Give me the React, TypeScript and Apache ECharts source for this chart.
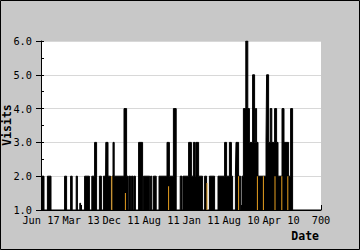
import React, { useEffect, useRef } from "react";
import * as echarts from "echarts";

// x tick labels (value axis 0..700, step 100)
const xLabels = ["Jun 17", "Mar 13", "Dec 11", "Aug 11", "Jan 11", "Aug 10", "Apr 10", "700"];
const yTicks = [1, 2, 3, 4, 5, 6];

// daily visits, as runs: from days[i] until days[i+1] the count is visits[i]
const days = [
  0, 2.5, 7.5, 16, 25, 59, 64, 74, 78, 88, 91, 97, 99, 109, 121, 127, 134, 139, 146, 151,
  156, 161, 162, 167.5, 174, 177.5, 180, 183, 207.5, 214, 218, 220, 224, 226, 230, 232, 236, 244,
  254, 256, 272, 274, 277, 281, 288, 295, 315, 321, 331, 338, 348, 352.5, 355, 369, 376, 381,
  385, 387, 394, 404, 409, 414, 421, 434, 442.5, 459, 464, 471, 476, 479, 486, 487.5, 494, 499,
  502.5, 506, 512, 517, 521, 529, 534, 536, 539, 542.5, 562.5, 564, 569, 573, 577, 584, 589,
  592.5, 602.5, 607.5, 619, 624, 629, 700,
];
const visits = [
  1, 2, 1, 2, 1, 2, 1, 2, 1, 2, 1, 1.2, 1, 2, 1, 2, 3, 1, 2, 1,
  2, 1, 3, 2, 1, 2, 3, 2, 4, 2, 1, 2, 1, 2, 1, 2, 1, 3,
  1, 2, 1, 2, 1, 2, 1, 2, 3, 2, 4, 1, 2, 1, 2, 3, 2, 3,
  2, 3, 2, 1, 2, 1, 2, 1, 2, 3, 2, 3, 2, 1, 2, 3, 2, 1,
  2, 4, 6, 4, 3, 5, 3, 4, 3, 2, 3, 5, 3, 4, 3, 4, 3,
  2, 4, 3, 2, 4, 1, 1,
];

// thin orange streaks
const orangeDays = [177, 211, 319, 415, 494, 541, 556, 585, 602, 617];
const orangeVisits = [2, 1.5, 1.7, 1.8, 2, 2, 2, 2, 2, 2];

const FONT = "DejaVu Sans Mono";

export default function App() {
  const ref = useRef<HTMLDivElement>(null);
  useEffect(() => {
    if (!ref.current) return;
    const chart = echarts.init(ref.current, null, { renderer: "svg" });
    chart.setOption({
      animation: false,
      backgroundColor: "#c8c8c8",
      grid: {
        left: 41,
        right: 39,
        top: 41,
        bottom: 40,
        show: true,
        backgroundColor: "#ffffff",
        borderWidth: 0,
      },
      xAxis: {
        type: "value",
        min: 0,
        max: 700,
        interval: 100,
        axisLine: { show: true, lineStyle: { color: "#000", width: 1 } },
        axisTick: { show: true, inside: true, length: 5, lineStyle: { color: "#000" } },
        splitLine: { show: false },
        axisLabel: {
          color: "#000",
          fontFamily: FONT,
          fontSize: 10.3,
          margin: 5,
          formatter: (v: number) => xLabels[Math.round(v / 100)] ?? String(v),
        },
      },
      yAxis: [
        {
          type: "value",
          min: yTicks[0],
          max: yTicks[yTicks.length - 1],
          interval: 1,
          position: "left",
          axisLine: { show: true, lineStyle: { color: "#000", width: 1 } },
          axisTick: { show: true, inside: false, length: 5, lineStyle: { color: "#000" } },
          splitLine: { show: true, lineStyle: { color: "#d8d8d8", width: 1 } },
          axisLabel: {
            color: "#000",
            fontFamily: FONT,
            fontSize: 10.3,
            margin: 9,
            formatter: (v: number) => v.toFixed(1),
          },
        },
        {
          type: "value",
          min: yTicks[0],
          max: yTicks[yTicks.length - 1],
          interval: 0.5,
          position: "left",
          axisLine: { show: false },
          axisTick: { show: true, inside: true, length: 3, lineStyle: { color: "#000" } },
          splitLine: { show: false },
          axisLabel: { show: false },
        },
      ],
      graphic: [
        {
          type: "rect",
          shape: { x: 0.5, y: 0.5, width: 359, height: 249 },
          style: { fill: "none", stroke: "#000", lineWidth: 1 },
          z: 100,
        },
        {
          type: "text",
          x: 319,
          y: 236,
          style: {
            text: "Date",
            fontFamily: FONT,
            fontWeight: "bold",
            fontSize: 11.5,
            fill: "#000",
            align: "right",
            verticalAlign: "middle",
          },
        },
        {
          type: "text",
          x: 7,
          y: 125,
          rotation: Math.PI / 2,
          style: {
            text: "Visits",
            fontFamily: FONT,
            fontWeight: "bold",
            fontSize: 11.5,
            fill: "#000",
            align: "center",
            verticalAlign: "middle",
          },
        },
      ],
      series: [
        {
          type: "line",
          yAxisIndex: 0,
          step: "end",
          showSymbol: false,
          symbol: "none",
          lineStyle: { color: "#000", width: 1 },
          areaStyle: { color: "#000", opacity: 1, origin: "start" },
          data: days.map((d, i) => [d, visits[i]]),
          z: 2,
        },
        {
          type: "bar",
          yAxisIndex: 0,
          barWidth: 1,
          itemStyle: { color: "#e8a020" },
          data: orangeDays.map((d, i) => [d, orangeVisits[i]]),
          z: 3,
        },
      ],
    });
    return () => chart.dispose();
  }, []);
  return (
    <div
      ref={ref}
      style={{ position: "absolute", left: 0, top: 0, width: 360, height: 250 }}
    />
  );
}
